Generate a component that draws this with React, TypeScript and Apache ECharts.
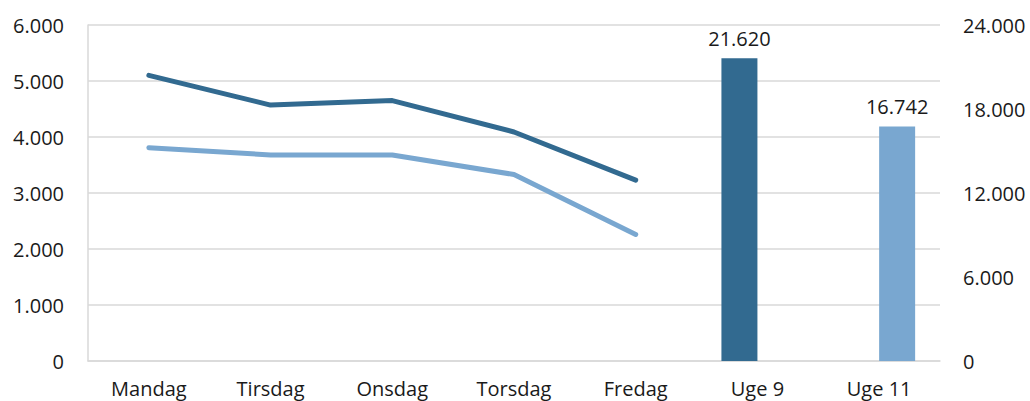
import React, { useEffect, useRef } from "react";
import * as echarts from "echarts";

const categories = ["Mandag", "Tirsdag", "Onsdag", "Torsdag", "Fredag", "Uge 9", "Uge 11"];
const lineDark = [5100, 4570, 4650, 4090, 3230, null, null];
const lineLight = [3810, 3680, 3680, 3330, 2260, null, null];
const barDark = [null, null, null, null, null, 21620, null];
const barLight = [null, null, null, null, null, null, 16742];
const leftTicks = { min: 0, max: 6000, interval: 1000 };
const rightTicks = { min: 0, max: 24000, interval: 6000 };

const DARK = "#326A90";
const LIGHT = "#79A7D0";
const GRID = "#D9D9D9";
const TEXT = "#1a1a1a";
const FONT = "Open Sans";
const FS = 20;

function fmt(v: number): string {
  return String(Math.round(v)).replace(/\B(?=(\d{3})+(?!\d))/g, ".");
}

export default function App() {
  const ref = useRef<HTMLDivElement>(null);
  useEffect(() => {
    document.body.style.margin = "0";
    const chart = echarts.init(ref.current!, null, { renderer: "svg" });
    chart.setOption({
      animation: false,
      backgroundColor: "#ffffff",
      grid: { left: 88, right: 90, top: 25, bottom: 40, containLabel: false },
      xAxis: {
        type: "category",
        data: categories,
        axisLine: { show: true, lineStyle: { color: GRID, width: 1.5 } },
        axisTick: { show: false },
        axisLabel: { color: TEXT, fontSize: FS, fontFamily: FONT, margin: 17 },
      },
      yAxis: [
        {
          type: "value",
          ...leftTicks,
          axisLine: { show: true, lineStyle: { color: GRID, width: 1.5 } },
          axisTick: { show: false },
          splitLine: { show: true, lineStyle: { color: GRID, width: 1.5 } },
          axisLabel: { color: TEXT, fontSize: FS, fontFamily: FONT, margin: 24, formatter: (v: number) => fmt(v) },
        },
        {
          type: "value",
          ...rightTicks,
          axisLine: { show: false },
          axisTick: { show: false },
          splitLine: { show: false },
          axisLabel: { color: TEXT, fontSize: FS, fontFamily: FONT, margin: 23, formatter: (v: number) => fmt(v) },
        },
      ],
      series: [
        {
          type: "line",
          data: lineDark,
          yAxisIndex: 0,
          showSymbol: false,
          symbol: "none",
          lineStyle: { color: DARK, width: 5, cap: "round", join: "round" },
          itemStyle: { color: DARK },
        },
        {
          type: "line",
          data: lineLight,
          yAxisIndex: 0,
          showSymbol: false,
          symbol: "none",
          lineStyle: { color: LIGHT, width: 5, cap: "round", join: "round" },
          itemStyle: { color: LIGHT },
        },
        {
          type: "bar",
          data: barDark,
          yAxisIndex: 1,
          barWidth: 36,
          barGap: "0%",
          itemStyle: { color: DARK },
          label: {
            show: true,
            position: "top",
            distance: 10,
            color: TEXT,
            fontSize: FS,
            fontFamily: FONT,
            formatter: (p: any) => fmt(p.value),
          },
        },
        {
          type: "bar",
          data: barLight,
          yAxisIndex: 1,
          barWidth: 36,
          barGap: "0%",
          itemStyle: { color: LIGHT },
          label: {
            show: true,
            position: "top",
            distance: 10,
            color: TEXT,
            fontSize: FS,
            fontFamily: FONT,
            formatter: (p: any) => fmt(p.value),
          },
        },
      ],
    });
    return () => chart.dispose();
  }, []);
  return <div ref={ref} style={{ width: 1030, height: 401 }} />;
}
